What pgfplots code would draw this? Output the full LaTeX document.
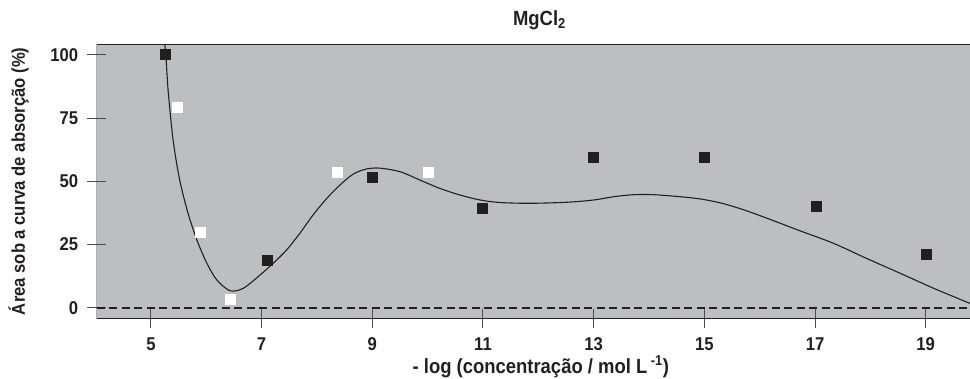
\documentclass[border=0pt]{standalone}
\usepackage{fontspec}
\setmainfont{Liberation Sans}[UprightFont={* Bold}, BoldFont={* Bold}, FakeStretch=0.9]
\usepackage{pgfplots}
\pgfplotsset{compat=1.18}
\definecolor{bg}{RGB}{189,190,192}
\definecolor{dk}{RGB}{35,31,32}
\newcommand\ff{\fontsize{18.5}{20}\selectfont}
\newcommand\fl{\fontsize{20.5}{22}\selectfont}
\begin{document}
\begin{tikzpicture}
\useasboundingbox (-96.7pt,-59.7pt) rectangle (873.3pt,318.3pt);
\begin{axis}[
  at={(0pt,0pt)}, anchor=south west,
  scale only axis, width=873.3pt, height=274pt,
  xmin=4.02, xmax=19.8, ymin=-4.2, ymax=104.2,
  axis background/.style={fill=bg},
  axis line style={draw=none},
  xtick={5,7,...,19}, ytick={0,25,50,75,100},
  tick pos=left,
  tick align=center, major tick length=19pt,
  tick style={black!70, line width=1pt},
  /pgf/number format/assume math mode=true,
  every tick label/.append style={font=\ff, text=dk},
  xticklabel style={anchor=base, inner sep=0pt, yshift=-22.2pt},
  yticklabel style={anchor=east, inner sep=0pt, xshift=-8.9pt},
  title={MgCl\textsubscript{2}},
  title style={font=\fl, text=dk, at={(axis description cs:0.507,1)}, anchor=base, inner sep=0pt, yshift=12.6pt},
  xlabel={- log (concentração / mol L\,\textsuperscript{-1})},
  xlabel style={font=\fl, text=dk, at={(axis description cs:0.5085,0)}, anchor=base, inner sep=0pt, yshift=-55pt},
  ylabel={Área sob a curva de absorção (\%)},
  ylabel style={font=\ff, text=dk, at={(axis description cs:0,0.5)}, anchor=north, inner sep=0pt, yshift=88.4pt},
]
\addplot[dk, line width=2.2pt, dash pattern=on 8pt off 4.5pt] coordinates {(4.02,0) (19.8,0)};
\addplot[dk, line width=1.1pt, smooth] coordinates {
(5.24,106) (5.27,100) (5.31,86.1) (5.40,66.4) (5.52,50.5) (5.67,37.4) (5.83,26.8)
(6.01,17.6) (6.19,11.0) (6.43,6.7) (6.67,7.7) (6.97,12.9) (7.21,17.6) (7.45,22.8)
(7.69,29.4) (7.93,36.7) (8.18,43.3) (8.42,48.6) (8.66,52.9) (8.90,54.9) (9.14,55.2)
(9.50,53.8) (9.86,50.5) (10.22,47.2) (10.58,44.6) (10.95,42.6) (11.31,41.6)
(11.85,41.3) (12.51,41.7) (13.0,42.6) (13.36,43.9) (13.72,44.7) (14.08,44.7)
(14.56,43.9) (14.93,43.0) (15.3,41.4) (15.7,38.8) (16.13,35.4) (16.73,30.4)
(17.33,25.5) (17.93,19.5) (18.54,13.6) (19.14,7.7) (19.80,1.7)};
\addplot[only marks, mark=square*, mark size=5pt, mark options={fill=dk, draw=dk, line width=0pt}] coordinates {
(5.27,100) (7.11,18.5) (9.01,51.6) (10.99,39.3) (13.0,59.5) (15.01,59.5) (17.02,40.1) (19.02,21.1)};
\addplot[only marks, mark=square*, mark size=5pt, mark options={fill=white, draw=white, line width=0pt}] coordinates {
(5.48,79.3) (5.90,29.8) (6.43,3.3) (8.38,53.6) (10.02,53.6)};
\draw[dk, line width=1.2pt] (rel axis cs:1,0) -- (rel axis cs:0,0) -- (rel axis cs:0,1) -- (rel axis cs:1,1);
\end{axis}
\end{tikzpicture}
\end{document}
